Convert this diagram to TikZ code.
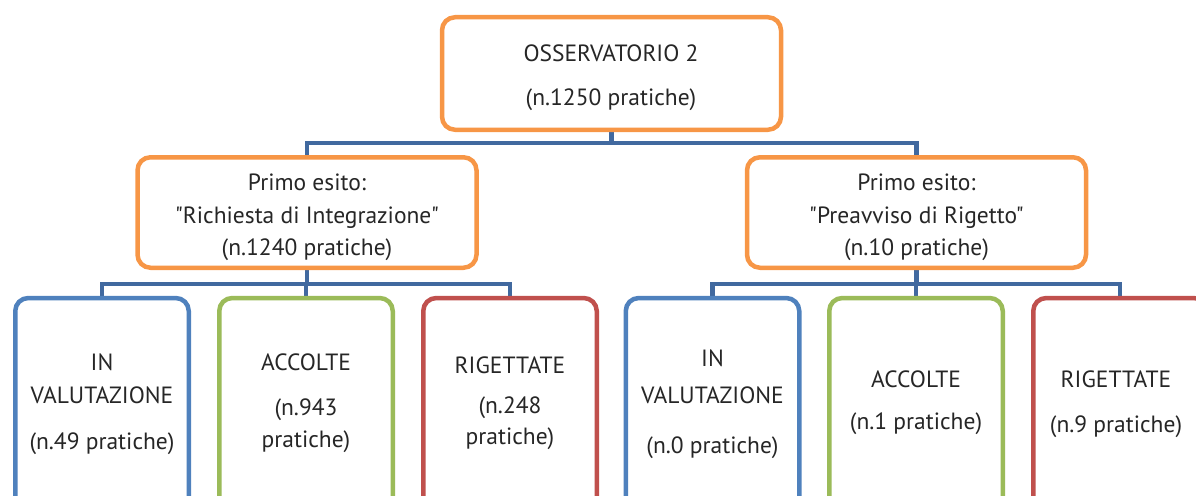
\documentclass[tikz,border=0pt]{standalone}
\usepackage{fontspec}
\setmainfont{PT Sans}[Ligatures=TeXOff]
\usetikzlibrary{backgrounds}
\definecolor{orng}{HTML}{F79646}
\definecolor{bblue}{HTML}{4F81BD}
\definecolor{bgreen}{HTML}{9BBB59}
\definecolor{bred}{HTML}{C0504D}
\definecolor{conncol}{HTML}{41699F}
\definecolor{txtcol}{HTML}{262626}
\begin{document}
\begin{tikzpicture}[x=1pt,y=-1pt,
  box/.style={draw, line width=4.5pt, rounded corners=13pt, fill=white, inner sep=0pt, shape=rectangle},
  obox/.style={box, draw=orng, minimum width=339pt, minimum height=112.5pt},
  leafbox/.style={box, minimum width=173.5pt, minimum height=262pt},
  conn/.style={draw=conncol, line width=4.5pt},
  txt/.style={anchor=base, inner sep=0pt, font=\fontsize{23.5}{28}\selectfont, text=txtcol}]
\useasboundingbox (0,0) rectangle (1196,495);
\clip (0,0) rectangle (1196,495);
% boxes
\node[obox, minimum height=112.5pt] (top) at (611.5,73.5) {};
\node[obox, minimum height=110.5pt] (l2) at (307,212.5) {};
\node[obox, minimum height=110.5pt] (r2) at (916.5,212.5) {};
\node[leafbox, draw=bblue]  (la) at (102,429) {};
\node[leafbox, draw=bgreen] (lb) at (306,429) {};
\node[leafbox, draw=bred]   (lc) at (510,429) {};
\node[leafbox, draw=bblue]  (ra) at (712.5,429) {};
\node[leafbox, draw=bgreen] (rb) at (916,429) {};
\node[leafbox, draw=bred]   (rc) at (1120,429) {};
% junctions
\coordinate (j0) at (611.5,143);
\coordinate (jl) at (307,284);
\coordinate (jr) at (916.5,284);
\begin{scope}[on background layer]
  \draw[conn] (top.south) -- (j0) -| (l2.north);
  \draw[conn] (j0) -| (r2.north);
  \draw[conn] (l2.south) -- (jl) -| (la.north);
  \draw[conn] (jl) -| (lc.north);
  \draw[conn] (jl) -| (lb.north);
  \draw[conn] (r2.south) -- (jr) -| (ra.north);
  \draw[conn] (jr) -| (rc.north);
  \draw[conn] (jr) -| (rb.north);
\end{scope}
% texts
\node[txt] (t0a) at (611,62) {OSSERVATORIO 2};
\node[txt] (t0b) at (611,105) {(n.1250 pratiche)};
\node[txt] (tl1) at (307,190) {Primo esito:};
\node[txt] (tl2) at (307,223) {"Richiesta di Integrazione"};
\node[txt] (tl3) at (307,255) {(n.1240 pratiche)};
\node[txt] (tr1) at (916.5,190) {Primo esito:};
\node[txt] (tr2) at (916.5,223) {"Preavviso di Rigetto"};
\node[txt] (tr3) at (916.5,255) {(n.10 pratiche)};
\node[txt] (la1) at (102,370) {IN};
\node[txt] (la2) at (102,403) {VALUTAZIONE};
\node[txt] (la3) at (102,449) {(n.49 pratiche)};
\node[txt] (lb1) at (306,370) {ACCOLTE};
\node[txt] (lb2) at (306,415) {(n.943};
\node[txt] (lb3) at (306,447) {pratiche)};
\node[txt] (lc1) at (510,373) {RIGETTATE};
\node[txt] (lc2) at (510,413) {(n.248};
\node[txt] (lc3) at (510,444) {pratiche)};
\node[txt] (ra1) at (712.5,366) {IN};
\node[txt] (ra2) at (712.5,403) {VALUTAZIONE};
\node[txt] (ra3) at (712.5,453) {(n.0 pratiche)};
\node[txt] (rb1) at (916,387) {ACCOLTE};
\node[txt] (rb2) at (916,429) {(n.1 pratiche)};
\node[txt] (rc1) at (1116,387) {RIGETTATE};
\node[txt] (rc2) at (1116,432) {(n.9 pratiche)};
\end{tikzpicture}
\end{document}
